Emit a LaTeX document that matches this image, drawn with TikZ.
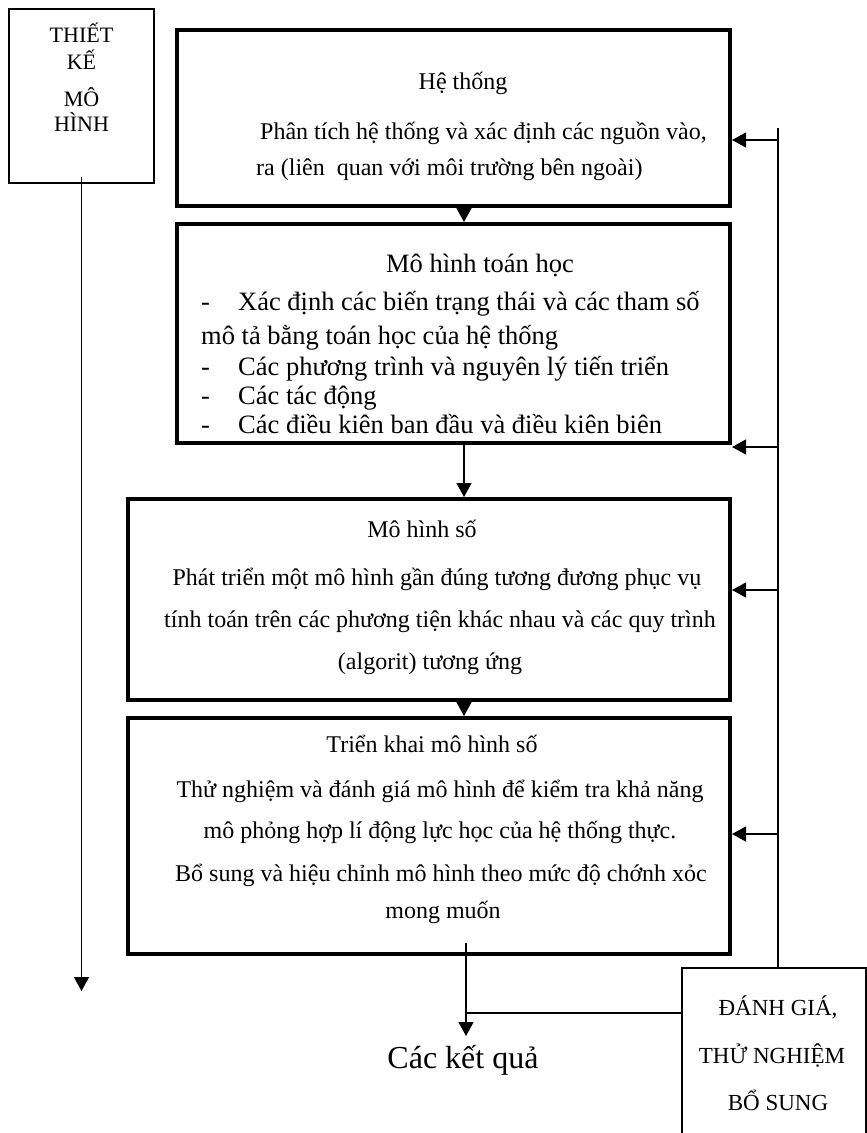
\documentclass[tikz,border=0pt]{standalone}
\usepackage{fontspec}
\setmainfont{Liberation Serif}
\usetikzlibrary{arrows.meta}

\newcommand{\bodyfont}{\fontsize{24}{28}\selectfont}
\newcommand{\mathfont}{\fontsize{26.5}{30}\selectfont}
\newcommand{\capfont}{\fontsize{22}{26}\selectfont}
\newcommand{\checkfont}{\fontsize{23}{27}\selectfont}
\newcommand{\dash}{\makebox[37pt][l]{-}}

\tikzset{
	>={Triangle[width=15pt,length=14pt]},
	stage/.style={draw, line width=4pt, inner sep=0pt},
	frame/.style={draw, line width=1.3pt, inner sep=0pt},
	txt/.style={inner sep=0pt, text height=0.72em, text depth=0.22em},
	link/.style={line width=1.3pt},
}

\begin{document}
\begin{tikzpicture}[x=1pt, y=-1pt]
		\useasboundingbox (0,0) rectangle (867,1133);
		\clip (0,0) rectangle (867,1133);

		% boxes
		\node[frame, minimum width=145pt, minimum height=174pt] at (81.5,96) (design) {};
		\node[stage, minimum width=553pt, minimum height=176pt] at (453.5,118) (sys) {};
		\node[stage, minimum width=553pt, minimum height=219pt] at (453.5,333.5) (math) {};
		\node[stage, minimum width=602pt, minimum height=201pt] at (429,599.5) (num) {};
		\node[stage, minimum width=602pt, minimum height=236pt] at (429,836) (impl) {};
		\node[frame, minimum width=184pt, minimum height=200pt] at (774,1068) (check) {};

		% texts
		\node[txt, font=\capfont] at (81.5,40) (d1) {THIẾT};
		\node[txt, font=\capfont] at (81.5,67) (d2) {KẾ};
		\node[txt, font=\capfont] at (81.5,104) (d3) {MÔ};
		\node[txt, font=\capfont] at (81.5,129) (d4) {HÌNH};

		\node[txt, font=\bodyfont] at (463,87) (sysT) {Hệ thống};
		\node[txt, font=\bodyfont, anchor=west] at (260,137) (sys1) {Phân tích hệ thống và xác định các nguồn vào,};
		\node[txt, font=\bodyfont, anchor=west] at (256,173) (sys2) {ra (liên\ \ quan với môi trường bên ngoài)};

		\node[txt, font=\mathfont] at (480,270) (mathT) {Mô hình toán học};
		\node[txt, font=\mathfont, anchor=west] at (201,308) (math1) {\dash Xác định các biến trạng thái và các tham số};
		\node[txt, font=\mathfont, anchor=west] at (201,342) (math2) {mô tả bằng toán học của hệ thống};
		\node[txt, font=\mathfont, anchor=west] at (201,373) (math3) {\dash Các phương trình và nguyên lý tiến triển};
		\node[txt, font=\mathfont, anchor=west] at (201,402) (math4) {\dash Các tác động};
		\node[txt, font=\mathfont, anchor=west] at (201,431) (math5) {\dash Các điều kiên ban đầu và điều kiên biên};

		\node[txt, font=\bodyfont] at (422,535) (numT) {Mô hình số};
		\node[txt, font=\bodyfont] at (437,583) (num1) {Phát triển một mô hình gần đúng tương đương phục vụ};
		\node[txt, font=\bodyfont] at (440,625) (num2) {tính toán trên các phương tiện khác nhau và các quy trình};
		\node[txt, font=\bodyfont] at (430,667) (num3) {(algorit) tương ứng};

		\node[txt, font=\bodyfont] at (432,750) (implT) {Triển khai mô hình số};
		\node[txt, font=\bodyfont] at (440,795) (impl1) {Thử nghiệm và đánh giá mô hình để kiểm tra khả năng};
		\node[txt, font=\bodyfont] at (440,836) (impl2) {mô phỏng hợp lí động lực học của hệ thống thực.};
		\node[txt, font=\bodyfont] at (441,879) (impl3) {Bổ sung và hiệu chỉnh mô hình theo mức độ chớnh xỏc};
		\node[txt, font=\bodyfont] at (443,916) (impl4) {mong muốn};

		\node[txt, font=\checkfont] at (778,1013) (c1) {ĐÁNH GIÁ,};
		\node[txt, font=\checkfont] at (772,1061) (c2) {THỬ NGHIỆM};
		\node[txt, font=\checkfont] at (778,1108) (c3) {BỔ SUNG};

		\node[txt, font=\fontsize{32}{36}\selectfont] at (463,1066) (result) {Các kết quả};

		% connectors
		\coordinate (axis) at (464,0);
		\coordinate (back) at (778,128);
		\coordinate (in1) at (778,140);
		\coordinate (in2) at (778,447);
		\coordinate (in3) at (778,590);
		\coordinate (in4) at (778,834);
		\coordinate (out) at (466,943);
		\coordinate (join) at (466,1013);
		\coordinate (resultend) at (466,1036);
		\coordinate (designend) at (81.5,991);

		\draw[link, ->] (sys.south -| axis) -- (math.north -| axis);
		\draw[link, ->] (math.south -| axis) -- (num.north -| axis);
		\draw[link, ->] (num.south -| axis) -- (impl.north -| axis);
		\draw[link, ->] (out) -- (resultend);
		\draw[link] (check.west |- join) -- (join);

		\draw[link] (back) -- (check.north -| back);
		\draw[link, ->] (in1) -- (in1 -| sys.east);
		\draw[link, ->] (in2) -- (in2 -| math.east);
		\draw[link, ->] (in3) -- (in3 -| num.east);
		\draw[link, ->] (in4) -- (in4 -| impl.east);

		\draw[link, ->] ([yshift=7pt]design.south) -- (designend);
	\end{tikzpicture}
\end{document}
